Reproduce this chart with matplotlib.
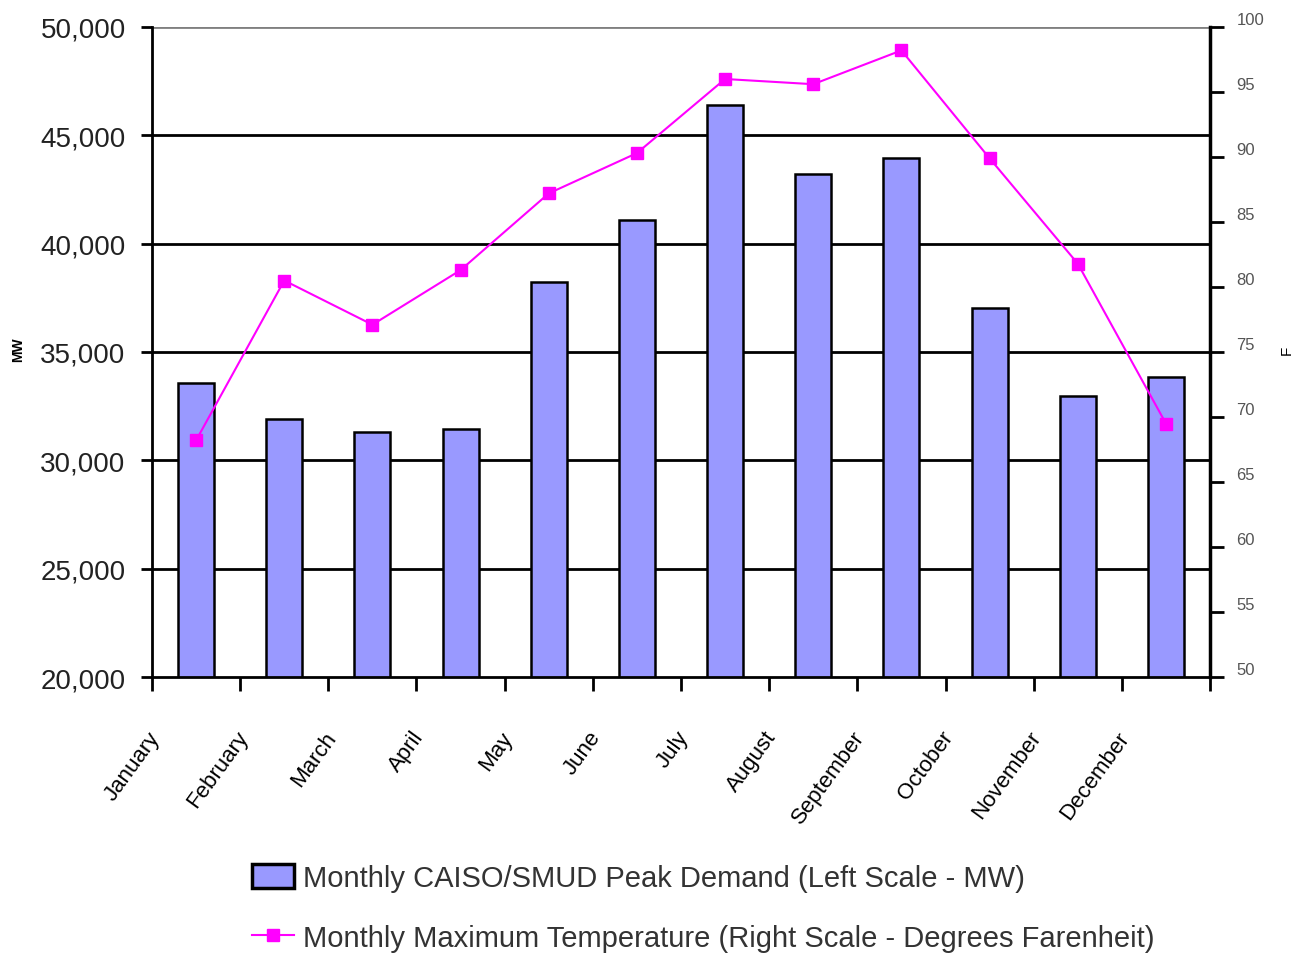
import matplotlib
matplotlib.use("Agg")
import matplotlib.pyplot as plt
import matplotlib.transforms as mtransforms
import numpy as np
from matplotlib.lines import Line2D
from matplotlib.patches import Patch

plt.rcParams["font.family"] = ["Liberation Sans", "DejaVu Sans"]

months = ["January", "February", "March", "April", "May", "June",
          "July", "August", "September", "October", "November", "December"]
peak_demand_mw = [33550, 31900, 31300, 31450, 38230, 41090,
                  46400, 43210, 43950, 37030, 32970, 33850]
max_temp_f = [68.2, 80.5, 77.1, 81.3, 87.2, 90.3,
              96.0, 95.6, 98.2, 89.9, 81.8, 69.5]

bar_color = "#9999ff"
line_color = "#ff00ff"

fig = plt.figure(figsize=(12.97, 9.54), dpi=100)
ax = fig.add_axes([152 / 1297, 1 - 678 / 954, (1210 - 152) / 1297, (678 - 28) / 954])
ax2 = ax.twinx()

x = np.arange(len(months))
ax.bar(x, peak_demand_mw, width=0.41, color=bar_color, edgecolor="black",
       linewidth=1.8, zorder=3)
ax.set_xlim(-0.5, len(months) - 0.5)
ax.set_ylim(20000, 50000)

# horizontal gridlines, the top one drawn lighter
for v in range(25000, 50000, 5000):
    ax.axhline(v, color="black", linewidth=2, zorder=1)
ax.axhline(50000, color="#808080", linewidth=2, zorder=1)

ax.set_yticks(range(20000, 50001, 5000))
ax.set_yticklabels([f"{v:,}" for v in range(20000, 50001, 5000)])
ax.tick_params(axis="y", length=8, width=2, pad=11, labelsize=20, labelcolor="#222222")

# month labels sit at the category boundaries
ax.set_xticks(np.arange(len(months) + 1) - 0.5)
ax.set_xticklabels(months + [""], rotation=54, ha="right", va="top", fontsize=16)
ax.tick_params(axis="x", length=10, width=2, pad=26)
shift = mtransforms.ScaledTranslation(12 / 100, 0, fig.dpi_scale_trans)
for lbl in ax.get_xticklabels():
    lbl.set_transform(lbl.get_transform() + shift)

for side in ["top", "right"]:
    ax.spines[side].set_visible(False)
ax.spines["left"].set_linewidth(2)
ax.spines["bottom"].set_linewidth(2)
ax.spines["bottom"].set_zorder(4)

ax2.plot(x, max_temp_f, color=line_color, linewidth=1.5, marker="s",
         markersize=8, markeredgecolor=line_color, zorder=5)
ax2.set_ylim(50, 100)
ax2.set_yticks(range(50, 101, 5))
ax2.tick_params(axis="y", length=10, width=2, pad=9, labelsize=12, labelcolor="#555555")
up = mtransforms.ScaledTranslation(0, 9 / 100, fig.dpi_scale_trans)
for lbl in ax2.get_yticklabels():
    lbl.set_transform(lbl.get_transform() + up)
for side in ["top", "left", "bottom"]:
    ax2.spines[side].set_visible(False)
ax2.spines["right"].set_linewidth(2.5)

fig.text(18 / 1297, 1 - 350 / 954, "MW", rotation=90, ha="center", va="center",
         fontsize=10, fontweight="bold")
fig.text(1287 / 1297, 1 - 350 / 954, "F", rotation=90, ha="center", va="center",
         fontsize=11)

handles = [
    Patch(facecolor=bar_color, edgecolor="black", linewidth=2.5),
    Line2D([0], [0], color=line_color, linewidth=1.5, marker="s", markersize=8),
]
labels = ["Monthly CAISO/SMUD Peak Demand (Left Scale - MW)",
          "Monthly Maximum Temperature (Right Scale - Degrees Farenheit)"]
fig.legend(handles, labels, loc="upper left",
           bbox_to_anchor=(252 / 1297, 1 - 865 / 954), frameon=False,
           fontsize=21, borderpad=0, borderaxespad=0, handlelength=1.45,
           handleheight=0.85, handletextpad=0.3, labelspacing=1.1,
           labelcolor="#333333")

fig.savefig("out.png", dpi=100)
